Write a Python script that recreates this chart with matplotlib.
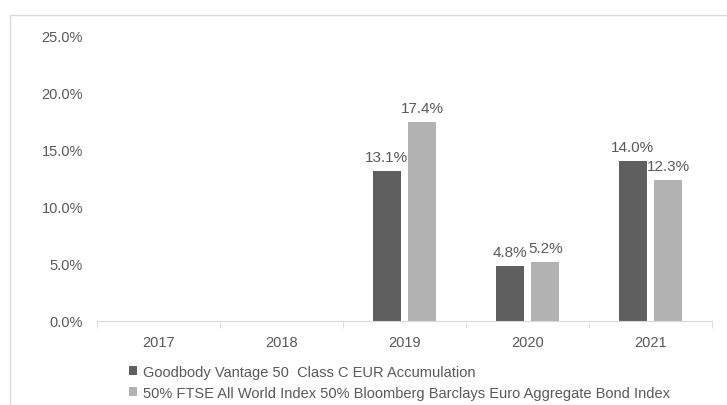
import matplotlib
matplotlib.use("Agg")
import matplotlib.pyplot as plt
from matplotlib.patches import Rectangle
import numpy as np

years = ["2017", "2018", "2019", "2020", "2021"]
fund = [np.nan, np.nan, 13.1, 4.8, 14.0]
index = [np.nan, np.nan, 17.4, 5.2, 12.3]
series_names = ["Goodbody Vantage 50  Class C EUR Accumulation",
                "50% FTSE All World Index 50% Bloomberg Barclays Euro Aggregate Bond Index"]
yticks = [0, 5, 10, 15, 20, 25]

plt.rcParams['font.family'] = ['Liberation Sans Narrow', 'Liberation Sans', 'DejaVu Sans']
txt = '#595959'

fig = plt.figure(figsize=(7.27, 4.06), dpi=100)
fig.patches.append(Rectangle((10/727, -0.1), 1.0, (406-16)/406 + 0.1, transform=fig.transFigure,
                             fill=False, edgecolor='#d9d9d9', linewidth=1.0))
ax = fig.add_axes([97/727, (406-322)/406, 615/727, (322-36)/406])

x = np.arange(len(years))
w = 0.23
off = 0.145
b1 = ax.bar(x - off, fund, w, color='#5f5f5f', label=series_names[0])
b2 = ax.bar(x + off, index, w, color='#b2b2b2', label=series_names[1])
for xs, vals in ((x - off, fund), (x + off, index)):
    for xi, v in zip(xs, vals):
        if not np.isnan(v):
            ax.text(xi, v + 0.6, f"{v:.1f}%", ha='center', va='bottom', fontsize=11, color=txt)

ax.set_xlim(-0.5, len(years) - 0.5)
ax.set_ylim(0, 25)
ax.set_yticks(yticks)
ax.set_yticklabels([f"{t:.1f}%" for t in yticks], fontsize=10.5, color=txt)
ax.set_xticks(x)
ax.set_xticklabels(years, fontsize=10.5, color=txt)
ax.set_xticks(np.arange(-0.5, len(years)), minor=True)
ax.tick_params(axis='x', which='major', length=0, pad=10)
ax.tick_params(axis='x', which='minor', length=5, color='#d9d9d9')
ax.tick_params(axis='y', length=0, pad=10)
for s in ['top', 'right', 'left']:
    ax.spines[s].set_visible(False)
ax.spines['bottom'].set_color('#d9d9d9')

leg = fig.legend(handles=[b1, b2], loc='upper left', bbox_to_anchor=(129/727, (406-366)/406),
                 frameon=False, fontsize=10.5, handlelength=0.55, handleheight=0.55,
                 handletextpad=0.4, labelspacing=0.45, borderaxespad=0, borderpad=0)
for t in leg.get_texts():
    t.set_color(txt)

fig.savefig("out.png", dpi=100)
